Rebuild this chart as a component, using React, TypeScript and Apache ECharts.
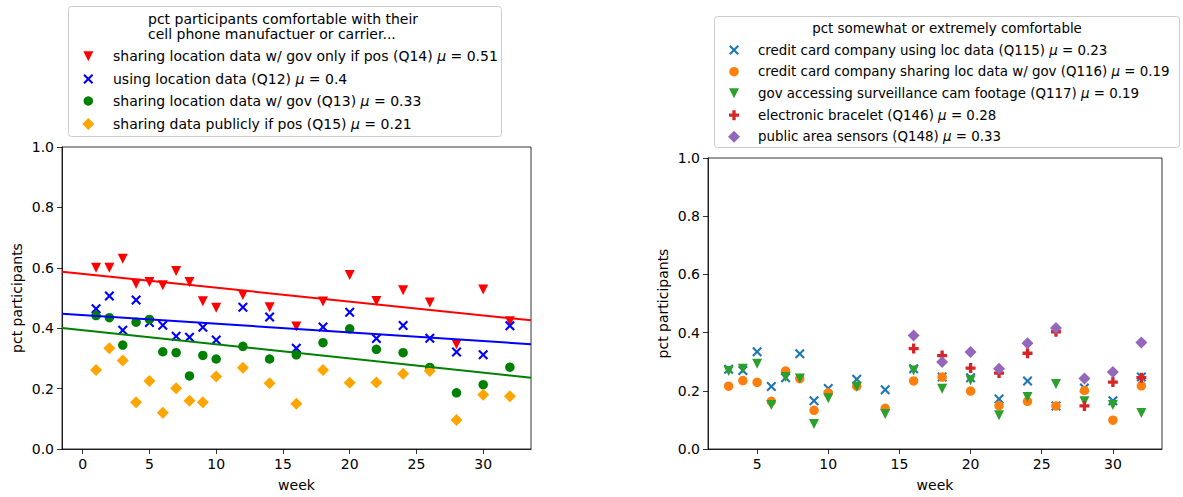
import React, { useEffect, useRef } from "react";
import * as echarts from "echarts";

// ---------- data (left panel) ----------
const weeksLeft = [1, 2, 3, 4, 5, 6, 7, 8, 9, 10, 12, 14, 16, 18, 20, 22, 24, 26, 28, 30, 32];
const q14 = [0.6, 0.6, 0.63, 0.547, 0.553, 0.542, 0.589, 0.553, 0.489, 0.468, 0.51, 0.469, 0.406, 0.488, 0.576, 0.49, 0.526, 0.485, 0.347, 0.528, 0.423];
const q12 = [0.464, 0.507, 0.393, 0.493, 0.419, 0.41, 0.373, 0.37, 0.403, 0.361, 0.469, 0.437, 0.334, 0.404, 0.453, 0.366, 0.409, 0.367, 0.321, 0.312, 0.408];
const q13 = [0.442, 0.435, 0.344, 0.42, 0.429, 0.322, 0.319, 0.242, 0.31, 0.298, 0.34, 0.298, 0.312, 0.352, 0.398, 0.33, 0.319, 0.27, 0.186, 0.213, 0.271];
const q15 = [0.262, 0.334, 0.293, 0.155, 0.225, 0.12, 0.201, 0.16, 0.155, 0.24, 0.269, 0.218, 0.15, 0.262, 0.219, 0.22, 0.249, 0.258, 0.096, 0.18, 0.175];
// fitted regression lines, read at the axis edges
const leftXRange = [-1.55, 33.58];
const fitQ14 = [0.587, 0.426];
const fitQ12 = [0.448, 0.347];
const fitQ13 = [0.401, 0.236];
const leftXTicks = [0, 5, 10, 15, 20, 25, 30];
const leftTitle = ["pct participants comfortable with their", "cell phone manufactuer or carrier..."];
const leftLabels = [
  "sharing location data w/ gov only if pos (Q14)",
  "using location data (Q12)",
  "sharing location data w/ gov (Q13)",
  "sharing data publicly if pos (Q15)",
];
const leftMeans = ["0.51", "0.4", "0.33", "0.21"];

// ---------- data (right panel) ----------
const weeksRight = [3, 4, 5, 6, 7, 8, 9, 10, 12, 14, 16, 18, 20, 22, 24, 26, 28, 30, 32];
const q115 = [0.274, 0.27, 0.334, 0.215, 0.245, 0.327, 0.166, 0.208, 0.24, 0.204, 0.276, 0.247, 0.245, 0.172, 0.234, 0.148, 0.21, 0.166, 0.247];
const q116 = [0.216, 0.235, 0.229, 0.164, 0.268, 0.242, 0.133, 0.193, 0.216, 0.14, 0.234, 0.247, 0.199, 0.149, 0.164, 0.148, 0.201, 0.099, 0.217];
const q117 = [0.268, 0.276, 0.293, 0.151, 0.247, 0.242, 0.086, 0.174, 0.214, 0.12, 0.27, 0.207, 0.236, 0.116, 0.179, 0.223, 0.164, 0.151, 0.124];
const weeksLate = [16, 18, 20, 22, 24, 26, 28, 30, 32];
const q146 = [0.345, 0.321, 0.278, 0.261, 0.329, 0.403, 0.148, 0.23, 0.245];
const q148 = [0.39, 0.299, 0.333, 0.276, 0.363, 0.416, 0.242, 0.265, 0.366];
const rightXRange = [1.55, 33.45];
const rightXTicks = [5, 10, 15, 20, 25, 30];
const rightTitle = "pct somewhat or extremely comfortable";
const rightLabels = [
  "credit card company using loc data (Q115)",
  "credit card company sharing loc data w/ gov (Q116)",
  "gov accessing surveillance cam footage (Q117)",
  "electronic bracelet (Q146)",
  "public area sensors (Q148)",
];
const rightMeans = ["0.23", "0.19", "0.19", "0.28", "0.33"];

const yTicks = [0, 0.2, 0.4, 0.6, 0.8, 1.0];

const FONT = "DejaVu Sans";
const X_PATH = "path://M1.5,0L5,3.5L8.5,0L10,1.5L6.5,5L10,8.5L8.5,10L5,6.5L1.5,10L0,8.5L3.5,5L0,1.5Z";
const PLUS_PATH = "path://M2,0L4,0L4,2L6,2L6,4L4,4L4,6L2,6L2,4L0,4L0,2L2,2Z";

type Kind = "tri" | "x" | "circle" | "diamond" | "plus";
const SYM: Record<Kind, any> = {
  tri: { symbol: "triangle", symbolRotate: 180, symbolSize: 10 },
  x: { symbol: X_PATH, symbolSize: 10 },
  circle: { symbol: "circle", symbolSize: 9.5 },
  diamond: { symbol: "diamond", symbolSize: 12 },
  plus: { symbol: PLUS_PATH, symbolSize: 10 },
};

const zip = (xs: number[], ys: number[]) => xs.map((x, i) => [x, ys[i]]);

function scatter(name: string, idx: number, xs: number[], ys: number[], kind: Kind, color: string) {
  return {
    name,
    type: "scatter",
    xAxisIndex: idx,
    yAxisIndex: idx,
    data: zip(xs, ys),
    ...SYM[kind],
    itemStyle: { color, opacity: 1 },
    emphasis: { disabled: true },
  };
}

function fitLine(idx: number, range: number[], ys: number[], color: string) {
  return {
    type: "line",
    xAxisIndex: idx,
    yAxisIndex: idx,
    data: zip(range, ys),
    symbol: "none",
    lineStyle: { color, width: 2 },
    emphasis: { disabled: true },
  };
}

function markerGraphic(kind: Kind, cx: number, cy: number, color: string): any {
  if (kind === "circle") {
    return { type: "circle", shape: { cx, cy, r: 4.75 }, style: { fill: color } };
  }
  let pts: number[][] = [];
  if (kind === "tri") {
    const s = 5;
    pts = [[cx - s, cy - s], [cx + s, cy - s], [cx, cy + s]];
  } else if (kind === "diamond") {
    const s = 6;
    pts = [[cx, cy - s], [cx + s, cy], [cx, cy + s], [cx - s, cy]];
  } else if (kind === "x") {
    const raw = [[1.5, 0], [5, 3.5], [8.5, 0], [10, 1.5], [6.5, 5], [10, 8.5], [8.5, 10], [5, 6.5], [1.5, 10], [0, 8.5], [3.5, 5], [0, 1.5]];
    pts = raw.map(([a, b]) => [cx - 5 + a, cy - 5 + b]);
  } else if (kind === "plus") {
    const raw = [[2, 0], [4, 0], [4, 2], [6, 2], [6, 4], [4, 4], [4, 6], [2, 6], [2, 4], [0, 4], [0, 2], [2, 2]];
    pts = raw.map(([a, b]) => [cx - 5 + (a * 10) / 6, cy - 5 + (b * 10) / 6]);
  }
  return { type: "polygon", shape: { points: pts }, style: { fill: color } };
}

function legendText(x: number, y: number, label: string, mean: string, size: number): any {
  return {
    type: "text",
    x,
    y,
    style: {
      text: `${label} {i|μ} = ${mean}`,
      fontSize: size,
      fontFamily: FONT,
      fill: "#000",
      verticalAlign: "middle",
      align: "left",
      rich: { i: { fontStyle: "italic", fontSize: size, fontFamily: FONT, fill: "#000" } },
    },
  };
}

const leftKinds: Kind[] = ["tri", "x", "circle", "diamond"];
const leftColors = ["#ff0000", "#0000ff", "#008000", "#ffa500"];
const rightKinds: Kind[] = ["x", "circle", "tri", "plus", "diamond"];
const rightColors = ["#1f77b4", "#ff7f0e", "#2ca02c", "#d62728", "#9467bd"];

function buildGraphic() {
  const els: any[] = [];
  // left legend
  els.push({ type: "rect", shape: { x: 68.5, y: 6.5, width: 433, height: 130, r: 3 }, style: { fill: "rgba(255,255,255,0.8)", stroke: "#cccccc", lineWidth: 1 } });
  leftTitle.forEach((t, i) => {
    els.push({ type: "text", x: 148, y: 18.5 + i * 15.5, style: { text: t, fontSize: 14, fontFamily: FONT, fill: "#000", verticalAlign: "middle", align: "left" } });
  });
  const leftRows = [56.3, 79, 101, 124];
  leftLabels.forEach((lab, i) => {
    els.push(markerGraphic(leftKinds[i], 88.3, leftRows[i], leftColors[i]));
    els.push(legendText(113, leftRows[i], lab, leftMeans[i], 14));
  });
  // right legend
  els.push({ type: "rect", shape: { x: 714.5, y: 16.5, width: 465, height: 131, r: 3 }, style: { fill: "rgba(255,255,255,0.8)", stroke: "#cccccc", lineWidth: 1 } });
  els.push({ type: "text", x: 947, y: 28.5, style: { text: rightTitle, fontSize: 13.4, fontFamily: FONT, fill: "#000", verticalAlign: "middle", align: "center" } });
  const rightRows = [50, 71.7, 93.3, 115.2, 136.7];
  rightLabels.forEach((lab, i) => {
    els.push(markerGraphic(rightKinds[i], 734, rightRows[i], rightColors[i]));
    els.push(legendText(758, rightRows[i], lab, rightMeans[i], 13.4));
  });
  return els;
}

function xAxisOpt(idx: number, range: number[], ticks: number[]) {
  return {
    type: "value",
    gridIndex: idx,
    min: range[0],
    max: range[1],
    name: "week",
    nameLocation: "middle",
    nameGap: 29,
    nameTextStyle: { fontSize: 14, fontFamily: FONT, color: "#000" },
    axisLine: { show: true, onZero: false, lineStyle: { color: "#000", width: 0.8 } },
    axisTick: { show: true, length: 5, customValues: ticks, lineStyle: { color: "#000", width: 0.8 } },
    axisLabel: { show: true, margin: 8, customValues: ticks, fontSize: 14, fontFamily: FONT, color: "#000", formatter: (v: number) => String(v) },
    splitLine: { show: false },
  };
}

function yAxisOpt(idx: number) {
  return {
    type: "value",
    gridIndex: idx,
    min: 0,
    max: 1,
    interval: 0.2,
    name: "pct participants",
    nameLocation: "middle",
    nameGap: 38,
    nameTextStyle: { fontSize: 14, fontFamily: FONT, color: "#000" },
    axisLine: { show: true, onZero: false, lineStyle: { color: "#000", width: 0.8 } },
    axisTick: { show: true, length: 5, customValues: yTicks, lineStyle: { color: "#000", width: 0.8 } },
    axisLabel: { show: true, margin: 8, customValues: yTicks, fontSize: 14, fontFamily: FONT, color: "#000", formatter: (v: number) => v.toFixed(1) },
    splitLine: { show: false },
  };
}

export default function App() {
  const ref = useRef<HTMLDivElement>(null);
  useEffect(() => {
    if (!ref.current) return;
    const chart = echarts.init(ref.current, undefined, { renderer: "svg" });
    chart.setOption({
      animation: false,
      backgroundColor: "#fff",
      textStyle: { fontFamily: FONT },
      grid: [
        { left: 62, top: 147, right: 652, bottom: 46.5, show: true, borderColor: "#000", borderWidth: 0.8, containLabel: false },
        { left: 708, top: 158, right: 21, bottom: 44, show: true, borderColor: "#000", borderWidth: 0.8, containLabel: false },
      ],
      xAxis: [xAxisOpt(0, leftXRange, leftXTicks), xAxisOpt(1, rightXRange, rightXTicks)],
      yAxis: [yAxisOpt(0), yAxisOpt(1)],
      series: [
        scatter(leftLabels[0], 0, weeksLeft, q14, "tri", leftColors[0]),
        fitLine(0, leftXRange, fitQ14, leftColors[0]),
        scatter(leftLabels[1], 0, weeksLeft, q12, "x", leftColors[1]),
        fitLine(0, leftXRange, fitQ12, leftColors[1]),
        scatter(leftLabels[2], 0, weeksLeft, q13, "circle", leftColors[2]),
        fitLine(0, leftXRange, fitQ13, leftColors[2]),
        scatter(leftLabels[3], 0, weeksLeft, q15, "diamond", leftColors[3]),
        scatter(rightLabels[0], 1, weeksRight, q115, "x", rightColors[0]),
        scatter(rightLabels[1], 1, weeksRight, q116, "circle", rightColors[1]),
        scatter(rightLabels[2], 1, weeksRight, q117, "tri", rightColors[2]),
        scatter(rightLabels[3], 1, weeksLate, q146, "plus", rightColors[3]),
        scatter(rightLabels[4], 1, weeksLate, q148, "diamond", rightColors[4]),
      ],
      graphic: buildGraphic(),
    });
    return () => chart.dispose();
  }, []);
  return <div ref={ref} style={{ position: "absolute", left: 0, top: 0, width: 1183, height: 497 }} />;
}
